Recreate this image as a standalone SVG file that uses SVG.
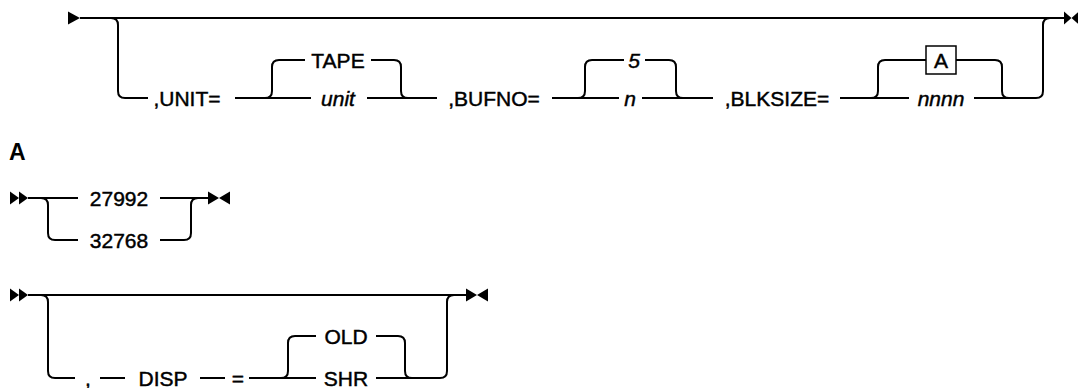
<svg xmlns="http://www.w3.org/2000/svg" xmlns:xlink="http://www.w3.org/1999/xlink" width="1078" height="388" viewBox="0 0 1078 388">
<style>
.ln{fill:none;stroke:#000;stroke-width:2}
.ar{fill:#000;stroke:none}
.t{font-family:"Liberation Sans",Arial,sans-serif;font-size:21px;fill:#000;stroke:#000;stroke-width:0.45;text-anchor:middle}
.i{font-style:italic}
.lbl{font-family:"Liberation Sans",Arial,sans-serif;font-size:23px;font-weight:bold;fill:#000}
.box{fill:#fff;stroke:#000;stroke-width:1.5}
</style>
<defs>
<polygon id="st" points="0,-6.5 12,0 0,6.5"/>
<g id="dst"><polygon points="0,-6.5 9,0 0,6.5"/><polygon points="9,-6.5 18,0 9,6.5"/></g>
<g id="en"><polygon points="0,-6.5 11,0 0,6.5"/><polygon points="22,-6.5 11,0 22,6.5"/></g>
</defs>
<rect width="1078" height="388" fill="#fff"/>
<g id="connectors">
<path class="ln" d="M80 18 H1064"/>
<path class="ln" d="M111 18 Q118 18 118 25 V91 Q118 98 125 98 H148"/>
<path class="ln" d="M235 98 H311"/>
<path class="ln" d="M265 98 Q272 98 272 91 V67 Q272 60 279 60 H305"/>
<path class="ln" d="M371 60 H394 Q401 60 401 67 V91 Q401 98 408 98"/>
<path class="ln" d="M367 98 H437"/>
<path class="ln" d="M552 98 H619"/>
<path class="ln" d="M578 98 Q585 98 585 91 V67 Q585 60 592 60 H624"/>
<path class="ln" d="M645 60 H669 Q676 60 676 67 V91 Q676 98 683 98"/>
<path class="ln" d="M642 98 H713"/>
<path class="ln" d="M840 98 H909"/>
<path class="ln" d="M871 98 Q878 98 878 91 V67 Q878 60 885 60 H926"/>
<path class="ln" d="M956 60 H995 Q1002 60 1002 67 V91 Q1002 98 1009 98"/>
<path class="ln" d="M974 98 H1036 Q1043 98 1043 91 V25 Q1043 18 1050 18"/>
<use href="#st" class="ar" x="68" y="18"/>
<g class="ar" transform="translate(1064,18) scale(0.68,1)"><use href="#en"/></g>

<path class="ln" d="M28 198 H78"/>
<path class="ln" d="M41 198 Q48 198 48 205 V233 Q48 240 55 240 H78"/>
<path class="ln" d="M160 198 H208"/>
<path class="ln" d="M160 240 H184 Q191 240 191 233 V205 Q191 198 198 198"/>
<use href="#dst" class="ar" x="10" y="198"/>
<use href="#en" class="ar" x="208" y="198"/>

<path class="ln" d="M28 295 H466"/>
<path class="ln" d="M41 295 Q48 295 48 302 V371 Q48 378 55 378 H75"/>
<path class="ln" d="M100 378 H125"/>
<path class="ln" d="M200 378 H225"/>
<path class="ln" d="M249 378 H316"/>
<path class="ln" d="M281 378 Q288 378 288 371 V343 Q288 336 295 336 H316"/>
<path class="ln" d="M376 336 H398 Q405 336 405 343 V371 Q405 378 412 378"/>
<path class="ln" d="M376 378 H440 Q447 378 447 371 V302 Q447 295 454 295"/>
<use href="#dst" class="ar" x="10" y="295"/>
<use href="#en" class="ar" x="466" y="295"/>
</g>
<g id="n-unit"><text class="t" x="187" y="105.5">,UNIT=</text></g>
<g id="n-tape"><text class="t" x="338" y="67.5">TAPE</text></g>
<g id="n-unitvar"><text class="t i" x="338" y="105.5">unit</text></g>
<g id="n-bufno"><text class="t" x="494" y="105.5">,BUFNO=</text></g>
<g id="n-5"><text class="t i" x="634" y="67.5">5</text></g>
<g id="n-n"><text class="t i" x="630" y="105.5">n</text></g>
<g id="n-blksize"><text class="t" x="777" y="105.5">,BLKSIZE=</text></g>
<g id="n-refA"><rect class="box" x="926" y="46" width="30" height="28"/><text class="t" x="941" y="67.5">A</text></g>
<g id="n-nnnn"><text class="t i" x="941" y="105.5">nnnn</text></g>
<g id="n-labelA"><text class="lbl" x="9" y="160">A</text></g>
<g id="n-27992"><text class="t" x="119" y="205.5">27992</text></g>
<g id="n-32768"><text class="t" x="119" y="247.5">32768</text></g>
<g id="n-comma"><text class="t" x="88" y="385.5">,</text></g>
<g id="n-disp"><text class="t" x="163" y="385.5">DISP</text></g>
<g id="n-eq"><text class="t" x="238" y="385.5">=</text></g>
<g id="n-old"><text class="t" x="346" y="343.5">OLD</text></g>
<g id="n-shr"><text class="t" x="346" y="385.5">SHR</text></g>
</svg>
